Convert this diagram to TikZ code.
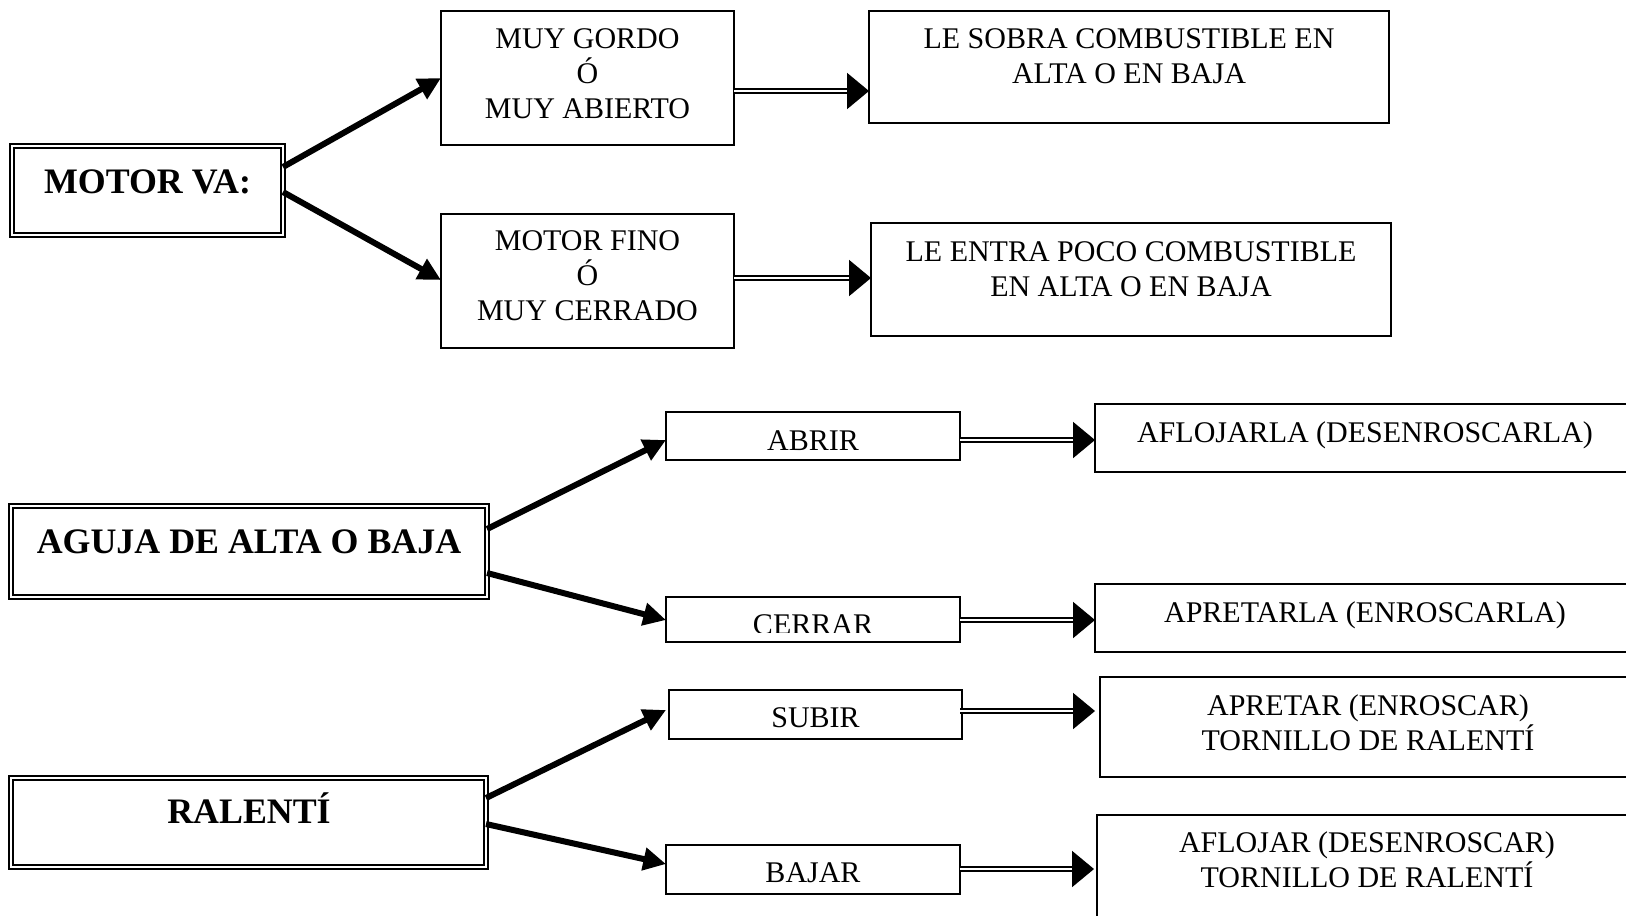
\documentclass[tikz,border=0pt]{standalone}
\usepackage{fontspec}
\setmainfont{Liberation Serif}
\usetikzlibrary{arrows.meta,calc}
\newcommand{\txtfont}{\fontsize{22.5pt}{26.25pt}\selectfont\lineskiplimit=-100pt\relax}
\tikzset{
  sz/.style 2 args={minimum width=#1*0.75pt, minimum height=#2*0.75pt},
  box/.style={draw, line width=1.5pt, inner sep=0pt, outer sep=0pt, anchor=north west},
  dbox/.style={draw, line width=1.8pt, double, double distance=1.5pt, inner sep=0pt, outer sep=0pt, anchor=north west},
  txt/.style={inner sep=0pt, anchor=north, align=center, font=\txtfont},
  btxt/.style={inner sep=0pt, anchor=base, font=\fontsize{26.9pt}{30pt}\selectfont\bfseries},
  bigarrow/.style={line width=4.5pt, -{Triangle[length=17pt,width=16.5pt]}},
  dblarrow/.style={line width=1.5pt, double, double distance=1.5pt, -{Triangle[length=16.5pt,width=27pt]}}
}
\begin{document}
\begin{tikzpicture}[x=0.75pt,y=-0.75pt]
\useasboundingbox (0,0) rectangle (1626,915);

% boxes
\node[dbox, sz={271}{89}] (motor) at (12,146) {};
\node[box, sz={293}{134}] (gordo) at (441,11) {};
\node[box, sz={520}{112}] (sobra) at (869,11) {};
\node[box, sz={293}{134}] (fino) at (441,214) {};
\node[box, sz={520}{113}] (entra) at (871,223) {};
\node[dbox, sz={476}{91}] (aguja) at (11,506) {};
\node[box, sz={294}{48}] (abrir) at (666,412) {};
\node[box, sz={540}{68}] (afloj) at (1095,404) {};
\node[box, sz={294}{45}] (cerrar) at (666,597) {};
\node[box, sz={540}{68}] (apretarla) at (1095,584) {};
\node[dbox, sz={475}{89}] (ralenti) at (11,778) {};
\node[box, sz={293}{49}] (subir) at (669,690) {};
\node[box, sz={536}{100}] (apretar) at (1100,677) {};
\node[box, sz={294}{49}] (bajar) at (666,845) {};
\node[box, sz={540}{120}] (aflojar) at (1097,815) {};

% texts
\node[btxt] (tmotor) at (147.5,193) {MOTOR VA:};
\node[btxt] (taguja) at (249,553) {AGUJA DE ALTA O BAJA};
\node[btxt] (tral) at (249,823) {RALENTÍ};
\node[txt] (tgordo) at (587.5,23.5) {\strut MUY GORDO\\\strut Ó\\\strut MUY ABIERTO};
\node[txt] (tsobra) at (1129,23.5) {\strut LE SOBRA COMBUSTIBLE EN\\\strut ALTA O EN BAJA};
\node[txt] (tfino) at (587.5,226) {\strut MOTOR FINO\\\strut Ó\\\strut MUY CERRADO};
\node[txt] (tentra) at (1131,236.5) {\strut LE ENTRA POCO COMBUSTIBLE\\\strut EN ALTA O EN BAJA};
\node[txt] (tabrir) at (813,425.5) {\strut ABRIR};
\node[txt] (tafloj) at (1365,418) {\strut AFLOJARLA (DESENROSCARLA)};
\begin{scope}
\clip (cerrar.north west) rectangle ($(cerrar.south east)+(0,-10)$);
\node[txt] (tcerrar) at (813,609.5) {\strut CERRAR};
\end{scope}
\node[txt] (tapretarla) at (1365,597.5) {\strut APRETARLA (ENROSCARLA)};
\node[txt] (tsubir) at (815.5,702.5) {\strut SUBIR};
\node[txt] (tapretar) at (1368,690.5) {\strut APRETAR (ENROSCAR)\\\strut TORNILLO DE RALENTÍ};
\node[txt] (tbajar) at (813,857.5) {\strut BAJAR};
\node[txt] (taflojar) at (1367,827.5) {\strut AFLOJAR (DESENROSCAR)\\\strut TORNILLO DE RALENTÍ};

% thick arrows
\draw[bigarrow] ($(motor.east)+(0,-23.5)$) -- (gordo.west);
\draw[bigarrow] ($(motor.east)+(0,1.5)$) -- ($(fino.west)+(0,-1)$);
\draw[bigarrow] ($(aguja.east)+(0,-22.5)$) -- ($(abrir.west)+(0,4)$);
\draw[bigarrow] ($(aguja.east)+(0,21.5)$) -- ($(cerrar.west)+(0,0.5)$);
\draw[bigarrow] ($(ralenti.east)+(0,-24.5)$) -- ($(subir.west)+(-3,-4.5)$);
\draw[bigarrow] ($(ralenti.east)+(0,1.5)$) -- ($(bajar.west)+(0,-5.5)$);

% double arrows
\coordinate (c1) at ($(gordo.east)+(0,13)$);
\coordinate (c2) at ($(fino.east)+(0,-3)$);
\coordinate (c3) at ($(abrir.east)+(0,4)$);
\coordinate (c4) at ($(cerrar.east)+(0,0.5)$);
\coordinate (c5) at ($(subir.east)+(-2,-3.5)$);
\coordinate (c5e) at ($(apretar.west)+(-5,0)$);
\coordinate (c6) at ($(bajar.east)+(0,-0.5)$);
\coordinate (c6e) at ($(aflojar.west)+(-3,0)$);
\draw[dblarrow] (c1) -- (c1 -| sobra.west);
\draw[dblarrow] (c2) -- (c2 -| entra.west);
\draw[dblarrow] (c3) -- (c3 -| afloj.west);
\draw[dblarrow] (c4) -- (c4 -| apretarla.west);
\draw[dblarrow] (c5) -- (c5 -| c5e);
\draw[dblarrow] (c6) -- (c6 -| c6e);
\end{tikzpicture}
\end{document}
